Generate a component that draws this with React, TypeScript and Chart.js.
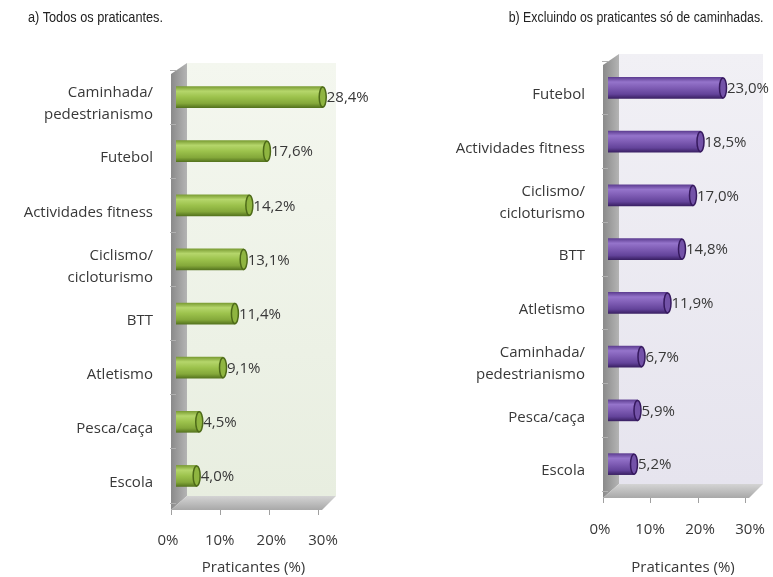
import React, { useEffect, useRef } from "react";
import { Chart, registerables } from "chart.js";
Chart.register(...registerables);

const categoriesA: (string | string[])[] = [
  ["Caminhada/", "pedestrianismo"],
  "Futebol",
  "Actividades fitness",
  ["Ciclismo/", "cicloturismo"],
  "BTT",
  "Atletismo",
  "Pesca/caça",
  "Escola",
];
const valuesA = [28.4, 17.6, 14.2, 13.1, 11.4, 9.1, 4.5, 4.0];

const categoriesB: (string | string[])[] = [
  "Futebol",
  "Actividades fitness",
  ["Ciclismo/", "cicloturismo"],
  "BTT",
  "Atletismo",
  ["Caminhada/", "pedestrianismo"],
  "Pesca/caça",
  "Escola",
];
const valuesB = [23.0, 18.5, 17.0, 14.8, 11.9, 6.7, 5.9, 5.2];

const xTickValues = [0, 10, 20, 30];
const xTitle = "Praticantes (%)";
const titleA = "a) Todos os praticantes.";
const titleB = "b) Excluindo os praticantes só de caminhadas.";

const LABEL_FONT = "'Open Sans', Lato, sans-serif";
const TEXT = "#383838";
const BAR_H = 21;

type Theme = {
  stops: string[];
  cap: string;
  capStroke: string;
  wallTop: string;
  wallBottom: string;
  padTop: number;
  padRight: number;
  yWidth: number;
  xHeight: number;
  xPad: number;
};

const themeA: Theme = {
  stops: ["#7c9e35", "#b5d66b", "#9cc24c", "#84a83a", "#56751f"],
  cap: "#8fb540",
  capStroke: "#4d6a18",
  wallTop: "#f4f7ef",
  wallBottom: "#e8eee0",
  padTop: 70,
  padRight: 59,
  yWidth: 176,
  xHeight: 74,
  xPad: 21,
};
const themeB: Theme = {
  stops: ["#5f3f93", "#9574cb", "#7e5cb4", "#63439a", "#3b2165"],
  cap: "#7352a8",
  capStroke: "#36195e",
  wallTop: "#f1f0f5",
  wallBottom: "#e6e4ee",
  padTop: 61,
  padRight: 15,
  yWidth: 218,
  xHeight: 86,
  xPad: 22,
};

function geom(chart: any) {
  const { left, right, top, bottom } = chart.chartArea;
  return {
    left,
    right,
    top,
    bottom,
    fx: left - 5,
    fy: bottom + 7,
    bx: left + 11,
    by: bottom - 7,
    wr: right + 5,
  };
}

function wallsPlugin(theme: Theme) {
  return {
    id: "walls3d",
    beforeDraw(chart: any) {
      const { ctx } = chart;
      const { top, fx, fy, bx, by, wr } = geom(chart);
      ctx.save();
      const g = ctx.createLinearGradient(0, top - 8, 0, by);
      g.addColorStop(0, theme.wallTop);
      g.addColorStop(1, theme.wallBottom);
      ctx.fillStyle = g;
      ctx.fillRect(bx, top - 7, wr - bx, by - (top - 7));
      const gs = ctx.createLinearGradient(fx, 0, bx, 0);
      gs.addColorStop(0, "#8a8a8a");
      gs.addColorStop(1, "#b4b4b4");
      ctx.fillStyle = gs;
      ctx.beginPath();
      ctx.moveTo(fx, top + 4);
      ctx.lineTo(bx, top - 7);
      ctx.lineTo(bx, by);
      ctx.lineTo(fx, fy);
      ctx.closePath();
      ctx.fill();
      const gf = ctx.createLinearGradient(0, by, 0, fy);
      gf.addColorStop(0, "#d4d4d4");
      gf.addColorStop(1, "#a8a8a8");
      ctx.fillStyle = gf;
      ctx.beginPath();
      ctx.moveTo(fx, fy);
      ctx.lineTo(bx, by);
      ctx.lineTo(wr, by);
      ctx.lineTo(wr - 14, fy);
      ctx.closePath();
      ctx.fill();
      ctx.restore();
    },
    afterDraw(chart: any) {
      const { ctx } = chart;
      const xs = chart.scales.x;
      const { left, right, fx, fy, wr } = geom(chart);
      const frontRight = wr - 18;
      ctx.save();
      ctx.strokeStyle = "#a0a0a0";
      ctx.lineWidth = 1;
      xs.ticks.forEach((t: any) => {
        const px = xs.getPixelForValue(t.value);
        const x = Math.round(fx + ((px - left) * (frontRight - fx)) / (right - left)) + 0.5;
        ctx.beginPath();
        ctx.moveTo(x, fy);
        ctx.lineTo(x, fy + 5);
        ctx.stroke();
      });
      ctx.restore();
    },
  };
}

function barsPlugin(theme: Theme, values: number[]) {
  return {
    id: "barDecor",
    afterDatasetsDraw(chart: any) {
      const { ctx } = chart;
      const meta = chart.getDatasetMeta(0);
      ctx.save();
      meta.data.forEach((el: any, i: number) => {
        const h = BAR_H / 2;
        ctx.beginPath();
        ctx.ellipse(el.x, el.y, 3.5, h - 0.5, 0, 0, Math.PI * 2);
        ctx.fillStyle = theme.cap;
        ctx.fill();
        ctx.lineWidth = 1.5;
        ctx.strokeStyle = theme.capStroke;
        ctx.stroke();
        ctx.fillStyle = TEXT;
        ctx.font = `15px ${LABEL_FONT}`;
        ctx.textAlign = "left";
        ctx.textBaseline = "middle";
        const txt = values[i].toFixed(1).replace(".", ",") + "%";
        ctx.fillText(txt, el.x + 4, el.y + 1);
      });
      ctx.restore();
    },
  };
}

function makeConfig(labels: (string | string[])[], values: number[], theme: Theme): any {
  return {
    type: "bar",
    data: {
      labels,
      datasets: [
        {
          data: values,
          borderWidth: 0,
          barThickness: BAR_H,
          backgroundColor: (c: any) => {
            const sc = c.chart && c.chart.scales && c.chart.scales.y;
            if (c.type !== "data" || !sc) return theme.stops[2];
            const y = sc.getPixelForValue(c.dataIndex);
            if (!isFinite(y)) return theme.stops[2];
            const g = c.chart.ctx.createLinearGradient(0, y - BAR_H / 2, 0, y + BAR_H / 2);
            g.addColorStop(0, theme.stops[0]);
            g.addColorStop(0.22, theme.stops[1]);
            g.addColorStop(0.5, theme.stops[2]);
            g.addColorStop(0.8, theme.stops[3]);
            g.addColorStop(1, theme.stops[4]);
            return g;
          },
        },
      ],
    },
    options: {
      indexAxis: "y",
      animation: false,
      responsive: false,
      maintainAspectRatio: false,
      layout: { padding: { top: theme.padTop, right: theme.padRight, left: 0, bottom: 0 } },
      plugins: { legend: { display: false }, tooltip: { enabled: false } },
      scales: {
        x: {
          min: 0,
          max: 30,
          afterBuildTicks: (s: any) => {
            s.ticks = xTickValues.map((v) => ({ value: v }));
          },
          ticks: {
            callback: (v: any) => v + "%",
            font: { family: LABEL_FONT, size: 15 },
            color: TEXT,
            padding: theme.xPad,
            labelOffset: -8,
            maxRotation: 0,
          },
          grid: { display: false },
          border: { display: false },
          title: {
            display: true,
            text: xTitle,
            font: { family: LABEL_FONT, size: 15 },
            color: TEXT,
            padding: { top: 0, bottom: 0 },
          },
          afterFit: (s: any) => {
            s.height = theme.xHeight;
            s.paddingLeft = 0;
            s.paddingRight = 0;
          },
        },
        y: {
          ticks: {
            font: { family: LABEL_FONT, size: 15, lineHeight: 1.45 },
            color: TEXT,
            padding: 17,
            labelOffset: 7,
          },
          grid: {
            display: true,
            drawOnChartArea: false,
            drawTicks: true,
            tickLength: 6,
            offset: true,
            color: "#b0b0b0",
          },
          border: { display: false },
          afterFit: (s: any) => {
            s.width = theme.yWidth;
            s.paddingTop = 0;
            s.paddingBottom = 0;
          },
        },
      },
    },
    plugins: [wallsPlugin(theme), barsPlugin(theme, values)],
  };
}

export default function App() {
  const refA = useRef<HTMLCanvasElement>(null);
  const refB = useRef<HTMLCanvasElement>(null);
  useEffect(() => {
    const a = new Chart(refA.current!, makeConfig(categoriesA, valuesA, themeA));
    const b = new Chart(refB.current!, makeConfig(categoriesB, valuesB, themeB));
    return () => {
      a.destroy();
      b.destroy();
    };
  }, []);
  const titleStyle: React.CSSProperties = {
    position: "absolute",
    top: 9,
    font: "14px 'Liberation Sans', Arial, sans-serif",
    color: "#222",
    whiteSpace: "nowrap",
    lineHeight: "16px",
  };
  return (
    <div style={{ position: "absolute", left: 0, top: 0, width: 773, height: 577, background: "#fff" }}>
      <canvas ref={refA} width={390} height={577} style={{ position: "absolute", left: 0, top: 0 }} />
      <canvas ref={refB} width={383} height={577} style={{ position: "absolute", left: 390, top: 0 }} />
      <div style={{ ...titleStyle, left: 28, transform: "scaleX(0.91)", transformOrigin: "left center" }}>{titleA}</div>
      <div style={{ ...titleStyle, right: 10, transform: "scaleX(0.88)", transformOrigin: "right center" }}>{titleB}</div>
    </div>
  );
}
